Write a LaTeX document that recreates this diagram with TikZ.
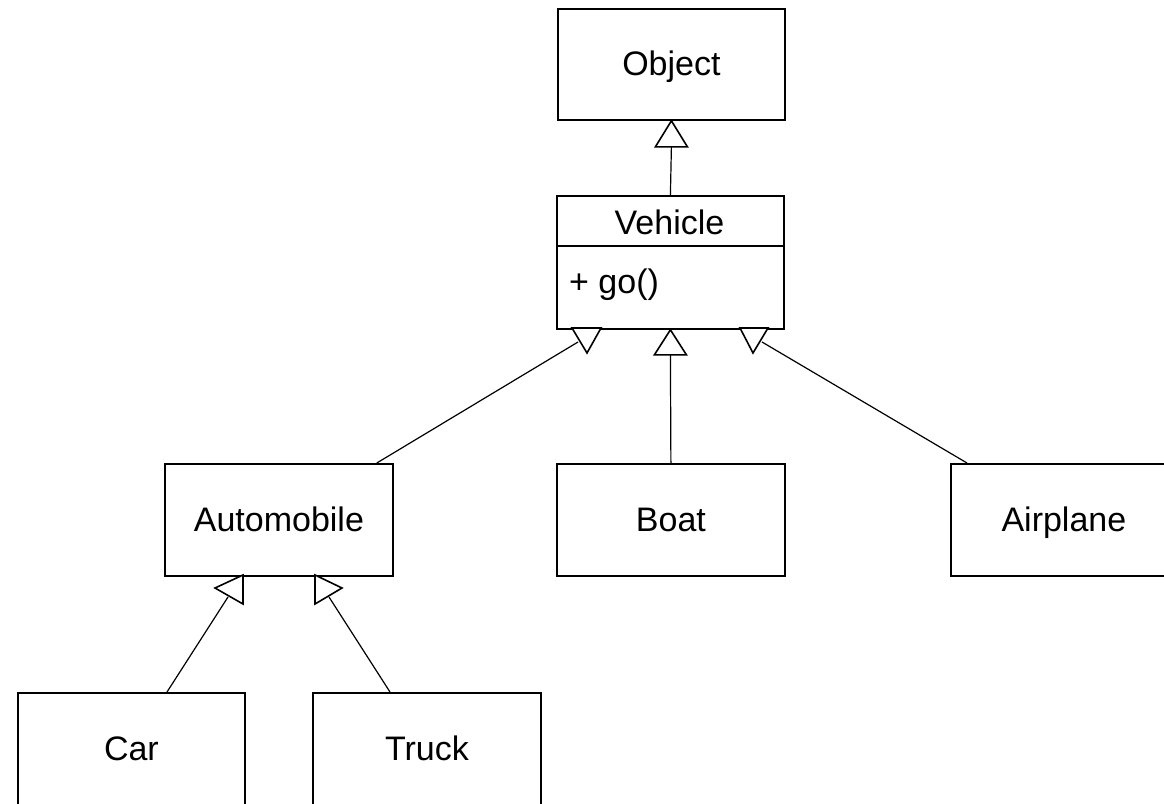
\documentclass[tikz,border=0pt]{standalone}
\usepackage{fontspec}
\setmainfont{Liberation Sans}
\usetikzlibrary{calc}
\begin{document}
\begin{tikzpicture}[x=1pt,y=-1pt,
  box/.style={draw,line width=1.8pt,inner sep=0pt,anchor=north west,
    minimum height=112pt,font=\fontsize{34}{40}\selectfont,
    text height=24pt,text depth=1pt},
  lbl/.style={inner sep=0pt,font=\fontsize{34}{40}\selectfont,
    text height=24pt,text depth=1pt},
  conn/.style={draw,line width=1.2pt},
  tri/.style={draw,line width=1.6pt,fill=white,line join=miter}]
\useasboundingbox (0,0) rectangle (1164,803);
\clip (0,0) rectangle (1164,803);
% boxes
\node[box,minimum width=227pt,minimum height=111pt] (obj) at (557,8) {Object};
\node[box,minimum width=227pt,minimum height=133pt] (veh) at (556,195) {};
\draw[line width=1.8pt] (556,246) -- (783,246);
\node[lbl] (vehtitle) at (669.5,223) {Vehicle};
\node[lbl,anchor=base west] (vehop) at (569,293) {+ go()};
\node[box,minimum width=228pt] (auto) at (164,463) {Automobile};
\node[box,minimum width=228pt] (boat) at (556,463) {Boat};
\node[box,minimum width=226pt] (air) at (950,463) {Airplane};
\node[box,minimum width=227pt] (car) at (17,692) {Car};
\node[box,minimum width=228pt] (truck) at (312,692) {Truck};
% attachment points
\coordinate (t0) at ($(obj.south)+(0,26)$);
\coordinate (tb) at ($(veh.south)+(0,25)$);
\coordinate (tl) at (578,342);
\coordinate (tr) at (762,342);
\coordinate (tc) at (228,597);
\coordinate (tt) at (329,597);
% connectors
\draw[conn] (veh.north) -- (t0);
\draw[conn] (boat.north) -- (tb);
\draw[conn] ($(auto.north east)+(-17,0)$) -- (tl);
\draw[conn] ($(air.north west)+(17,0)$) -- (tr);
\draw[conn] ($(car.north west)+(150,0)$) -- (tc);
\draw[conn] ($(truck.north west)+(78,0)$) -- (tt);
% arrowheads
\draw[tri] (obj.south) -- ++(-16,26) -- ++(32,0) -- cycle;
\draw[tri] (veh.south) -- ++(-16,25) -- ++(32,0) -- cycle;
\draw[tri] (572,328) -- (601,328) -- (587,353) -- cycle;
\draw[tri] (740,328) -- (768,328) -- (753,353) -- cycle;
\draw[tri] (243,575) -- (243,604) -- (215,588) -- cycle;
\draw[tri] (315,575) -- (315,604) -- (342,588) -- cycle;
\end{tikzpicture}
\end{document}
